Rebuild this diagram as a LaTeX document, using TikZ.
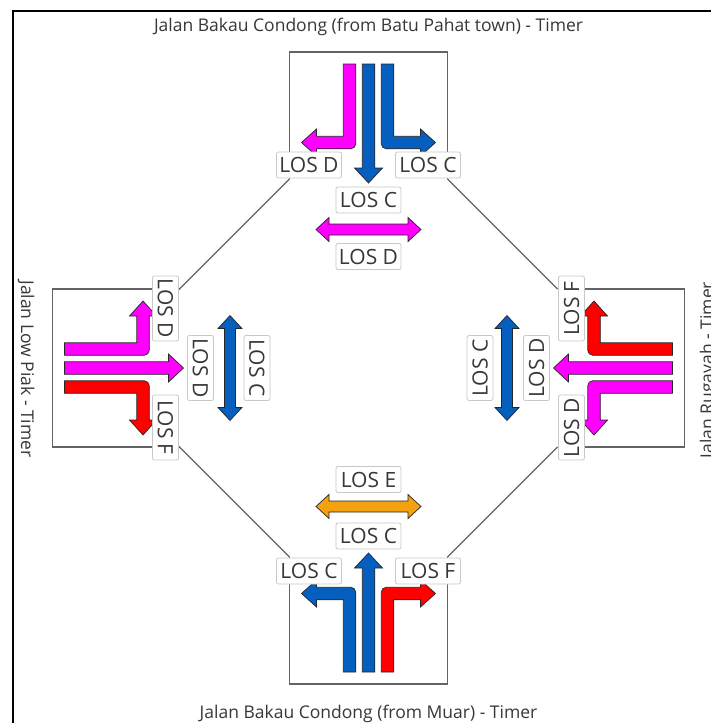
\documentclass[tikz,border=0pt]{standalone}
\usepackage{fontspec}
\setmainfont{Open Sans}

\definecolor{lanemag}{RGB}{255,0,255}
\definecolor{laneblue}{RGB}{5,95,190}
\definecolor{lanered}{RGB}{255,0,0}
\definecolor{laneorange}{RGB}{245,160,15}
\definecolor{roadline}{RGB}{100,100,100}
\definecolor{labeltext}{RGB}{55,55,55}
\definecolor{labelborder}{RGB}{200,200,200}

\tikzset{
  lanearrow/.style={fill=#1, draw=black!85, line width=0.7pt, line join=miter},
  roadedge/.style={draw=roadline, line width=1.2pt},
  losbox/.style={fill=white, draw=labelborder, line width=0.8pt, rounded corners=2pt,
    minimum width=65pt, minimum height=26pt, inner sep=0pt, text=labeltext,
    font=\fontsize{21}{21}\selectfont},
  roadname/.style={text=labeltext, inner sep=0pt, font=\fontsize{17.5}{17.5}\selectfont},
}

% Lane arrows, drawn in the frame of the northern approach
% (traffic enters from the top and moves towards the centre).
\newcommand{\lanestraight}[1]{%
  \path[lanearrow=#1] (-6.25,304) -- (-6.25,200) -- (-14,200) -- (0,185)
    -- (14,200) -- (6.25,200) -- (6.25,304) -- cycle;}
\newcommand{\laneturn}[1]{% lane at x=-19 turning towards -x
  \path[lanearrow=#1] (-25.25,304) -- (-25.25,231.75) -- (-52,231.75) -- (-52,239)
    -- (-67,225.5) -- (-52,212) -- (-52,219.25) -- (-17.75,219.25)
    arc[start angle=-90, end angle=0, radius=5] -- (-12.75,304) -- cycle;}
\newcommand{\lanedouble}[1]{%
  \path[lanearrow=#1] (-52.5,138.5) -- (-39.5,150.5) -- (-39.5,144) -- (39.5,144)
    -- (39.5,150.5) -- (52.5,138.5) -- (39.5,126.5) -- (39.5,133) -- (-39.5,133)
    -- (-39.5,126.5) -- cycle;}

\begin{document}
\begin{tikzpicture}[x=1pt, y=1pt]
\useasboundingbox (0,0) rectangle (710,-723);
\fill[white] (0,0) rectangle (710,-723);

% outer frame
\draw[line width=2pt] (13,-740) -- (13,-11) -- (730,-11);

% road names
\node[roadname, anchor=base] (name-top) at (368.5,-31) {Jalan Bakau Condong (from Batu Pahat town) - Timer};
\node[roadname, anchor=base] (name-bottom) at (368.5,-718) {Jalan Bakau Condong (from Muar) - Timer};
\node[roadname, anchor=base, rotate=-90] (name-left) at (21,-369) {Jalan Low Piak - Timer};
\node[roadname, anchor=base, rotate=90] (name-right) at (713,-370) {Jalan Rugayah - Timer};

% approach boxes and lane arrows
\foreach \nm/\ang/\ca/\cb/\cc/\cd in {
    top/0/lanemag/laneblue/laneblue/lanemag,
    left/90/lanered/lanemag/lanemag/laneblue,
    bottom/180/lanered/laneblue/laneblue/laneorange,
    right/-90/lanered/lanemag/lanemag/laneblue}{
  \begin{scope}[shift={(368.5,-368)}, rotate=\ang]
    \coordinate (\nm-a) at (-79,189);
    \coordinate (\nm-c) at (79,189);
    \draw[roadedge] (\nm-a) -- (-79,316) -- (79,316) -- (\nm-c);
    \laneturn{\ca}
    \lanestraight{\cb}
    \begin{scope}[xscale=-1]\laneturn{\cc}\end{scope}
    \lanedouble{\cd}
  \end{scope}
}

% corner edges of the junction
\draw[roadedge] (top-a) -- (left-c);
\draw[roadedge] (left-a) -- (bottom-c);
\draw[roadedge] (bottom-a) -- (right-c);
\draw[roadedge] (right-a) -- (top-c);

% level-of-service labels
\foreach \nm/\ang/\tang/\la/\lc/\ls/\ld in {
    top/0/0/D/C/C/D,
    left/90/-90/F/D/D/C,
    bottom/180/0/F/C/C/E,
    right/-90/90/F/D/D/C}{
  \begin{scope}[shift={(368.5,-368)}, rotate=\ang]
    \node[losbox, rotate=\tang] (\nm-los-a) at (-59.5,203) {LOS \la};
    \node[losbox, rotate=\tang] (\nm-los-c) at (59.5,203) {LOS \lc};
    \node[losbox, rotate=\tang] (\nm-los-s) at (0,168) {LOS \ls};
    \node[losbox, rotate=\tang] (\nm-los-d) at (0,111.5) {LOS \ld};
  \end{scope}
}
\end{tikzpicture}
\end{document}
